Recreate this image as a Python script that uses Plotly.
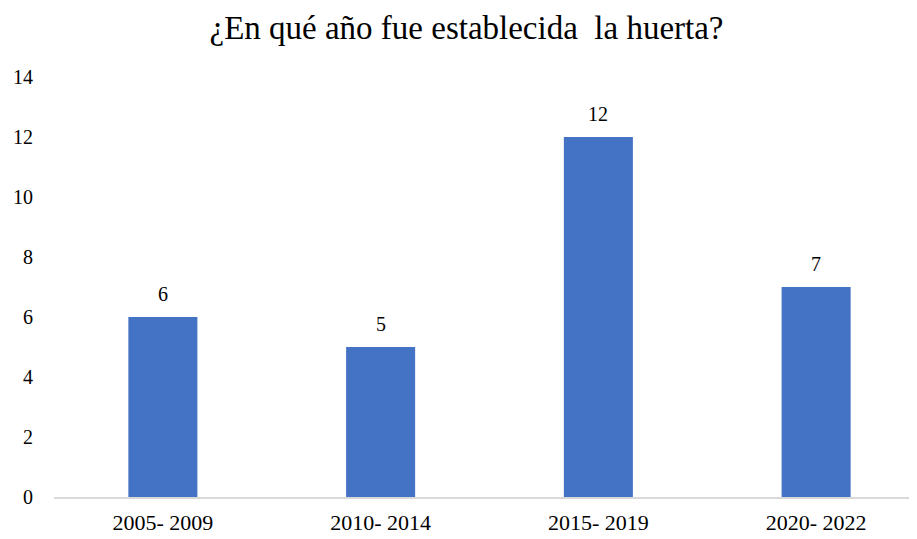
import plotly.graph_objects as go

categories = ["2005- 2009", "2010- 2014", "2015- 2019", "2020- 2022"]
values = [6, 5, 12, 7]
y_ticks = [0, 2, 4, 6, 8, 10, 12, 14]

font_family = "Liberation Serif"

fig = go.Figure(go.Bar(
    x=categories, y=values,
    marker=dict(color="#4472C4", line=dict(width=0)),
    width=0.317,
    hoverinfo="x+y",
))

for c, v in zip(categories, values):
    fig.add_annotation(x=c, y=v, text=str(v), showarrow=False,
                       yanchor="bottom", yshift=10,
                       font=dict(family=font_family, size=20, color="#000000"))

fig.update_layout(
    width=917, height=539,
    margin=dict(l=46, r=0, t=69, b=50),
    paper_bgcolor="white", plot_bgcolor="white",
    title=dict(text="¿En qué año fue establecida  la huerta?", x=0.5, xanchor="center",
               y=0.963, yanchor="middle",
               font=dict(family=font_family, size=33, color="#000000")),
    showlegend=False,
    font=dict(family=font_family, color="#000000"),
)
fig.update_xaxes(type="category", range=[-0.5, 3.5], showgrid=False,
                 showline=True, linecolor="#D9D9D9", linewidth=2,
                 ticks="", ticklabelstandoff=5,
                 tickfont=dict(size=22, family=font_family, color="#000000"))
fig.update_yaxes(range=[0, 14], tickvals=y_ticks, showgrid=False, zeroline=False,
                 showline=False, ticks="", ticklabelstandoff=20,
                 tickfont=dict(size=20, family=font_family, color="#000000"))

fig.write_html("out.html")
